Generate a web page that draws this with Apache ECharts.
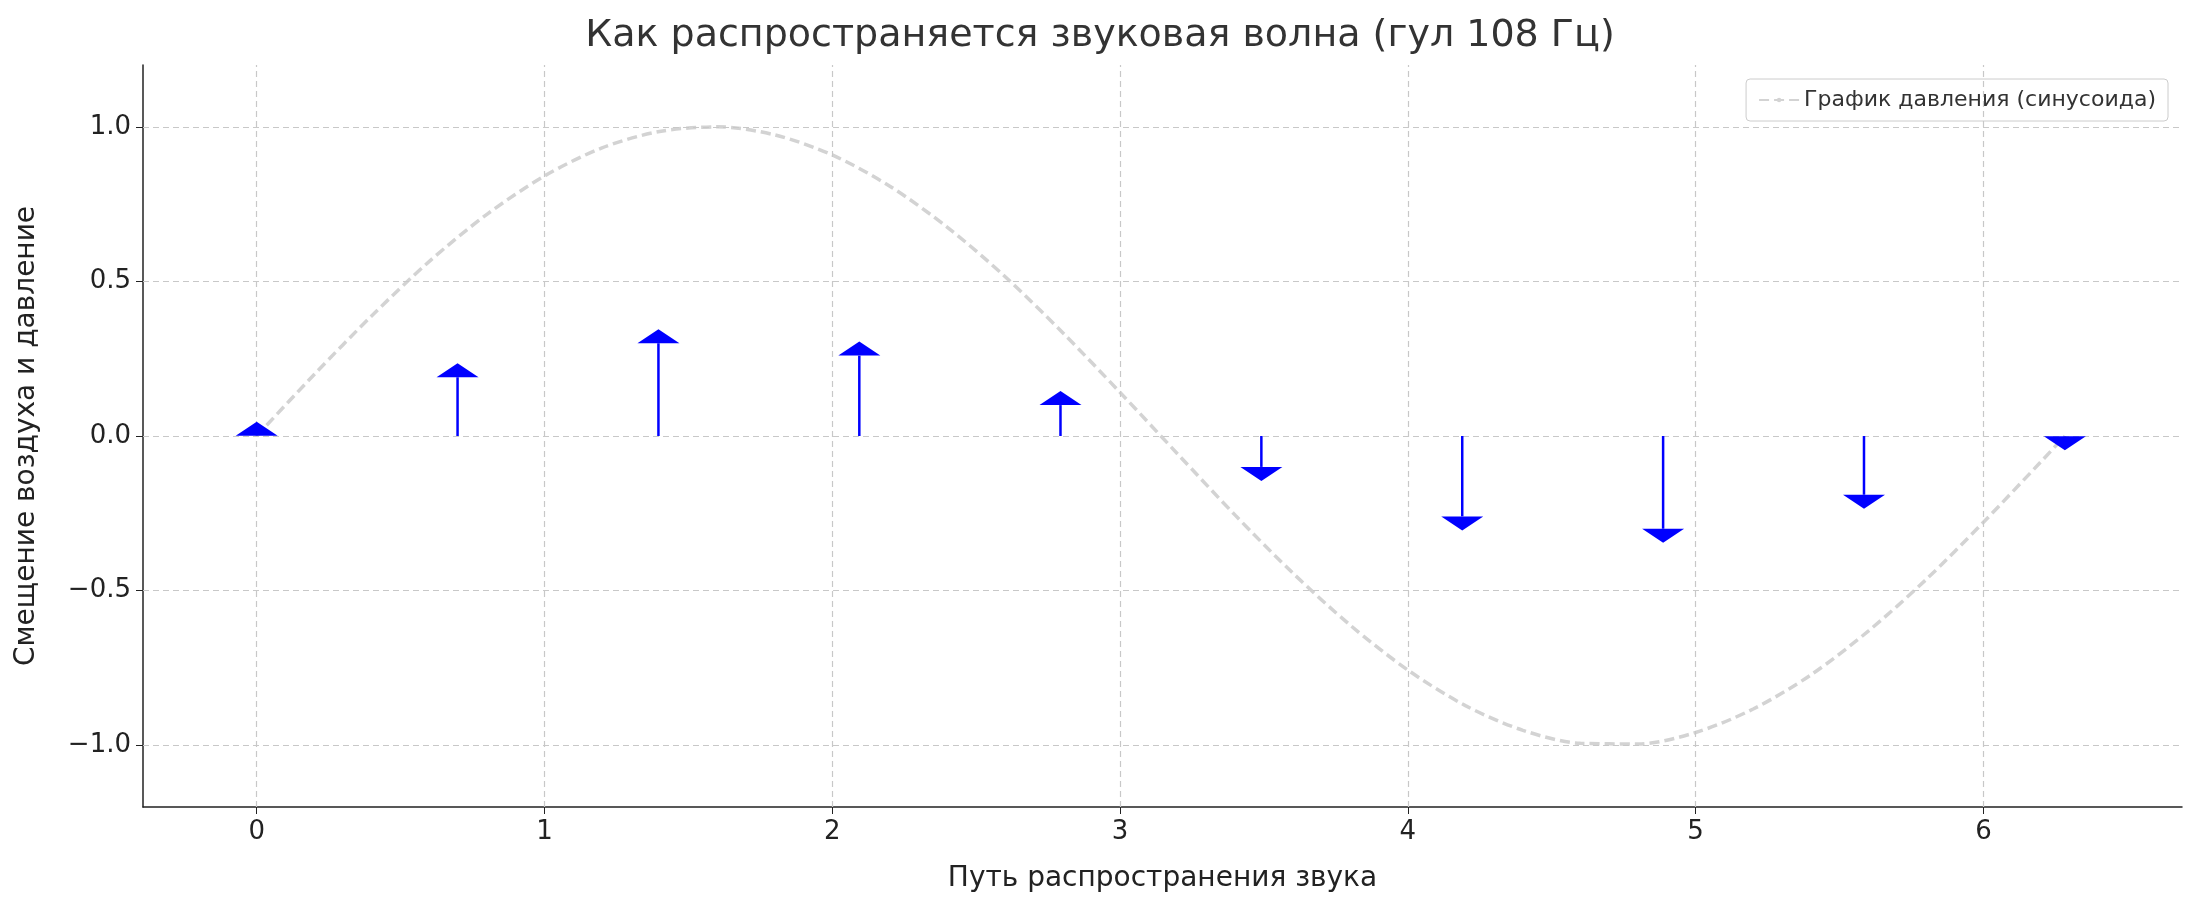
<!DOCTYPE html>
<html><head><meta charset="utf-8">
<script src="https://cdn.jsdelivr.net/npm/echarts@6/dist/echarts.min.js"></script>
<style>html,body{margin:0;padding:0;background:#fff}#c{width:2200px;height:907px}</style>
</head><body><div id="c"></div>
<script>
const waveX = [0,0.2,0.4,0.6,0.8,1.0,1.2,1.4,1.6,1.8,2.0,2.2,2.4,2.6,2.8,3.0,3.2,3.4,3.6,3.8,4.0,4.2,4.4,4.6,4.8,5.0,5.2,5.4,5.6,5.8,6.0,6.2,6.283];
const waveY = [0,0.199,0.389,0.565,0.717,0.841,0.932,0.985,1.0,0.974,0.909,0.808,0.675,0.516,0.335,0.141,-0.058,-0.256,-0.443,-0.612,-0.757,-0.872,-0.952,-0.994,-0.996,-0.959,-0.883,-0.773,-0.631,-0.465,-0.279,-0.083,0];
const arrowX = [0,0.698,1.396,2.094,2.793,3.491,4.189,4.887,5.585,6.283];
const arrowY = [0.001,0.19,0.30,0.26,0.10,-0.10,-0.26,-0.30,-0.19,-0.001];
const xTicks = [0,1,2,3,4,5,6];
const yTicks = [-1.0,-0.5,0.0,0.5,1.0];
const titleText = 'Как распространяется звуковая волна (гул 108 Гц)';
const legendText = 'График давления (синусоида)';

const chart = echarts.init(document.getElementById('c'));
const gridStyle = {color:'#c8c8c8', type:[6,4], width:1.2};
chart.setOption({
  animation:false,
  title:{text:titleText, left:'center', top:12, textStyle:{fontFamily:'DejaVu Sans', fontSize:38, fontWeight:'normal', color:'#333'}},
  legend:{data:[legendText], right:32, top:79, orient:'vertical', borderColor:'#ccc', borderWidth:1, borderRadius:4, padding:[10,12],
    itemWidth:40, itemHeight:3, textStyle:{fontFamily:'DejaVu Sans', fontSize:22, color:'#333'}},
  grid:{left:143, right:18, top:65, bottom:100},
  xAxis:{type:'value', min:-0.395, max:6.69, name:'Путь распространения звука', nameLocation:'middle', nameGap:58,
    nameTextStyle:{fontFamily:'DejaVu Sans', fontSize:28, color:'#222'},
    axisLine:{onZero:false, lineStyle:{color:'#222', width:1.5}}, splitLine:{show:false},
    axisTick:{customValues:xTicks, length:7, lineStyle:{color:'#222'}},
    axisLabel:{customValues:xTicks, fontFamily:'DejaVu Sans', fontSize:26, color:'#222', margin:12}},
  yAxis:{type:'value', min:-1.2, max:1.2, name:'Смещение воздуха и давление', nameLocation:'middle', nameGap:102,
    nameTextStyle:{fontFamily:'DejaVu Sans', fontSize:28, color:'#222'},
    axisLine:{show:true, onZero:false, lineStyle:{color:'#222', width:1.5}}, splitLine:{show:false},
    axisTick:{show:true, customValues:yTicks, length:7, lineStyle:{color:'#222'}},
    axisLabel:{customValues:yTicks, fontFamily:'DejaVu Sans', fontSize:26, color:'#222', margin:12,
      formatter:v=>v.toFixed(1).replace('-','−')}},
  series:[
    {type:'line', name:'grid', data:[], silent:true,
     markLine:{symbol:'none', silent:true, label:{show:false}, lineStyle:gridStyle,
       data: xTicks.map(v=>({xAxis:v})).concat(yTicks.map(v=>({yAxis:v})))}},
    {type:'line', name:legendText, smooth:0.3, showSymbol:false, data:waveX.map((x,i)=>[x,waveY[i]]),
     lineStyle:{color:'#d3d3d3', width:3.5, type:[10,5]}, itemStyle:{color:'#d3d3d3'}, z:3},
    {type:'custom', data:arrowX.map((x,i)=>[x,arrowY[i]]), z:5,
     renderItem:(params, api)=>{
       const p0 = api.coord([api.value(0),0]);
       const p1 = api.coord([api.value(0),api.value(1)]);
       const dir = api.value(1) >= 0 ? -1 : 1;
       const hw = 21, hl = 14;
       return {type:'group', children:[
         {type:'line', shape:{x1:p0[0],y1:p0[1],x2:p1[0],y2:p1[1]}, style:{stroke:'#0000ff', lineWidth:2.5}},
         {type:'polygon', shape:{points:[[p1[0]-hw,p1[1]],[p1[0]+hw,p1[1]],[p1[0],p1[1]+dir*hl]]}, style:{fill:'#0000ff'}}
       ]};
     }}
  ]
});
</script></body></html>
